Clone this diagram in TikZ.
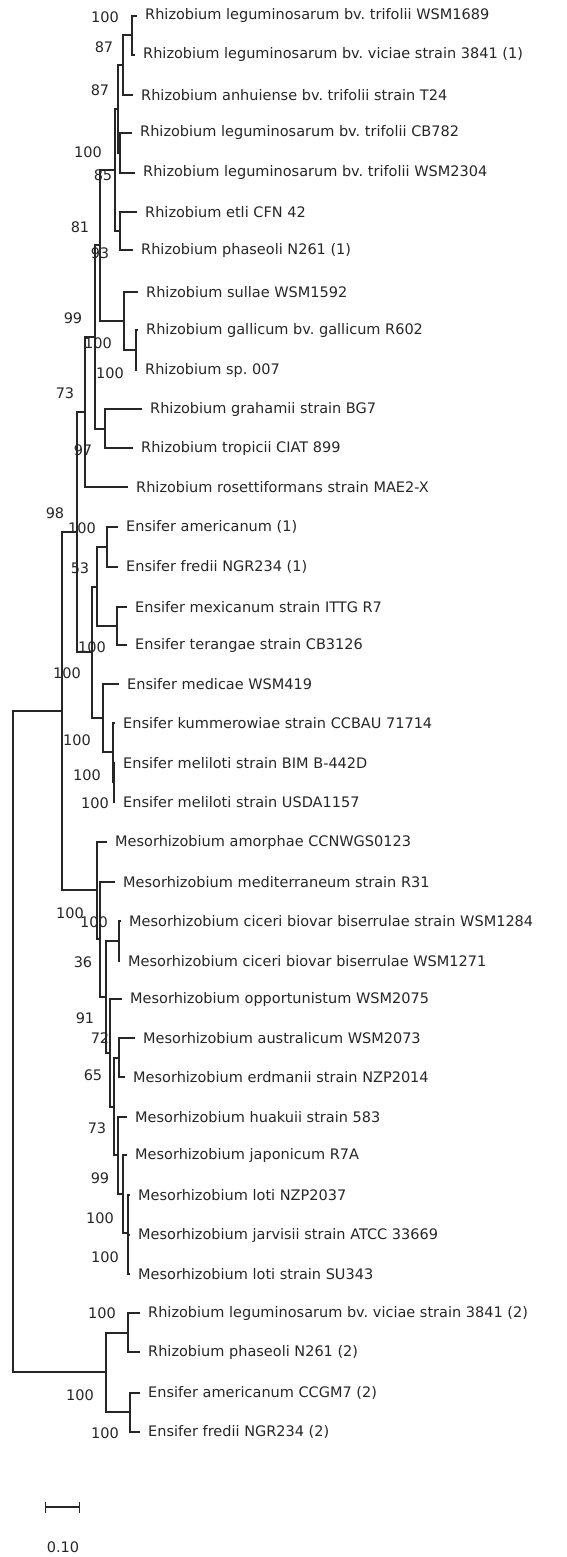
\documentclass[tikz,border=0pt]{standalone}
\usepackage{fontspec}
\setmainfont{DejaVu Sans}
\usepackage{tikz}
\usetikzlibrary{arrows.meta}
\frenchspacing
\definecolor{treeInk}{HTML}{262626}
\tikzset{
    phbranch/.style={draw=treeInk, line width=1.1pt},
    phleaf/.style={anchor=west, inner xsep=8pt, inner ysep=0pt, text=treeInk, font=\fontsize{14.5}{16}\selectfont},
    phboot/.style={inner sep=0pt, text=treeInk, font=\fontsize{14.5}{16}\selectfont},
    phscale/.style={draw=treeInk, line width=1.1pt, {Bar[width=11pt]}-{Bar[width=11pt]}}
}

\begin{document}
\begin{tikzpicture}[x=1pt, y=-1pt]
            \useasboundingbox (0,0) rectangle (567,1557);
            % leaf tips
            \coordinate (t1) at (137,16);
            \coordinate (t2) at (135,55);
            \coordinate (t3) at (133,95);
            \coordinate (t4) at (132,133);
            \coordinate (t5) at (135,173);
            \coordinate (t6) at (137,212);
            \coordinate (t7) at (133,250);
            \coordinate (t8) at (138,292);
            \coordinate (t9) at (138,330);
            \coordinate (t10) at (137,370);
            \coordinate (t11) at (142,409);
            \coordinate (t12) at (133,448);
            \coordinate (t13) at (128,487);
            \coordinate (t14) at (118,527);
            \coordinate (t15) at (118,567);
            \coordinate (t16) at (127,607);
            \coordinate (t17) at (127,645);
            \coordinate (t18) at (119,684);
            \coordinate (t19) at (115,723);
            \coordinate (t20) at (115,763);
            \coordinate (t21) at (115,802);
            \coordinate (t22) at (107,842);
            \coordinate (t23) at (115,882);
            \coordinate (t24) at (121,921);
            \coordinate (t25) at (120,961);
            \coordinate (t26) at (122,999);
            \coordinate (t27) at (135,1038);
            \coordinate (t28) at (125,1077);
            \coordinate (t29) at (127,1117);
            \coordinate (t30) at (127,1155);
            \coordinate (t31) at (130,1195);
            \coordinate (t32) at (130,1235);
            \coordinate (t33) at (130,1274);
            \coordinate (t34) at (140,1313);
            \coordinate (t35) at (140,1352);
            \coordinate (t36) at (140,1393);
            \coordinate (t37) at (140,1432);
            % taxa
            \node[phleaf] (n1) at (t1) {Rhizobium leguminosarum bv. trifolii WSM1689};
            \node[phleaf] (n2) at (t2) {Rhizobium leguminosarum bv. viciae strain 3841 (1)};
            \node[phleaf] (n3) at (t3) {Rhizobium anhuiense bv. trifolii strain T24};
            \node[phleaf] (n4) at (t4) {Rhizobium leguminosarum bv. trifolii CB782};
            \node[phleaf] (n5) at (t5) {Rhizobium leguminosarum bv. trifolii WSM2304};
            \node[phleaf] (n6) at (t6) {Rhizobium etli CFN 42};
            \node[phleaf] (n7) at (t7) {Rhizobium phaseoli N261 (1)};
            \node[phleaf] (n8) at (t8) {Rhizobium sullae WSM1592};
            \node[phleaf] (n9) at (t9) {Rhizobium gallicum bv. gallicum R602};
            \node[phleaf] (n10) at (t10) {Rhizobium sp. 007};
            \node[phleaf] (n11) at (t11) {Rhizobium grahamii strain BG7};
            \node[phleaf] (n12) at (t12) {Rhizobium tropicii CIAT 899};
            \node[phleaf] (n13) at (t13) {Rhizobium rosettiformans strain MAE2-X};
            \node[phleaf] (n14) at (t14) {Ensifer americanum (1)};
            \node[phleaf] (n15) at (t15) {Ensifer fredii NGR234 (1)};
            \node[phleaf] (n16) at (t16) {Ensifer mexicanum strain ITTG R7};
            \node[phleaf] (n17) at (t17) {Ensifer terangae strain CB3126};
            \node[phleaf] (n18) at (t18) {Ensifer medicae WSM419};
            \node[phleaf] (n19) at (t19) {Ensifer kummerowiae strain CCBAU 71714};
            \node[phleaf] (n20) at (t20) {Ensifer meliloti strain BIM B-442D};
            \node[phleaf] (n21) at (t21) {Ensifer meliloti strain USDA1157};
            \node[phleaf] (n22) at (t22) {Mesorhizobium amorphae CCNWGS0123};
            \node[phleaf] (n23) at (t23) {Mesorhizobium mediterraneum strain R31};
            \node[phleaf] (n24) at (t24) {Mesorhizobium ciceri biovar biserrulae strain WSM1284};
            \node[phleaf] (n25) at (t25) {Mesorhizobium ciceri biovar biserrulae WSM1271};
            \node[phleaf] (n26) at (t26) {Mesorhizobium opportunistum WSM2075};
            \node[phleaf] (n27) at (t27) {Mesorhizobium australicum WSM2073};
            \node[phleaf] (n28) at (t28) {Mesorhizobium erdmanii strain NZP2014};
            \node[phleaf] (n29) at (t29) {Mesorhizobium huakuii strain 583};
            \node[phleaf] (n30) at (t30) {Mesorhizobium japonicum R7A};
            \node[phleaf] (n31) at (t31) {Mesorhizobium loti NZP2037};
            \node[phleaf] (n32) at (t32) {Mesorhizobium jarvisii strain ATCC 33669};
            \node[phleaf] (n33) at (t33) {Mesorhizobium loti strain SU343};
            \node[phleaf] (n34) at (t34) {Rhizobium leguminosarum bv. viciae strain 3841 (2)};
            \node[phleaf] (n35) at (t35) {Rhizobium phaseoli N261 (2)};
            \node[phleaf] (n36) at (t36) {Ensifer americanum CCGM7 (2)};
            \node[phleaf] (n37) at (t37) {Ensifer fredii NGR234 (2)};
            % inner nodes
            \coordinate (rA) at (132,35);
            \coordinate (rB) at (123,65);
            \coordinate (rC) at (120,153);
            \coordinate (rD) at (118,109);
            \coordinate (rE) at (120,231);
            \coordinate (rF) at (115,170);
            \coordinate (rI) at (136,350);
            \coordinate (rH) at (124,321);
            \coordinate (rG) at (100,245);
            \coordinate (rJ) at (105,429);
            \coordinate (rK) at (95,337);
            \coordinate (rL) at (85,412);
            \coordinate (eM) at (107,547);
            \coordinate (eN) at (117,626);
            \coordinate (eO) at (97,587);
            \coordinate (eQ) at (114,782);
            \coordinate (eR) at (113,752);
            \coordinate (eS) at (103,718);
            \coordinate (eT) at (92,652);
            \coordinate (cU) at (77,532);
            \coordinate (mX) at (119,941);
            \coordinate (mZ) at (119,1058);
            \coordinate (m8) at (128,1233);
            \coordinate (m7) at (123,1194);
            \coordinate (m6) at (118,1155);
            \coordinate (m5) at (114,1107);
            \coordinate (m4) at (110,1053);
            \coordinate (m3) at (106,997);
            \coordinate (m2) at (100,939);
            \coordinate (m1) at (97,890);
            \coordinate (cV) at (62,711);
            \coordinate (oA) at (128,1333);
            \coordinate (oB) at (130,1412);
            \coordinate (oC) at (106,1372);
            \coordinate (root) at (13,1041);
            % branches
            \foreach \p/\c in {rA/t1, rA/t2, rB/rA, rB/t3, rC/t4, rC/t5, rD/rB, rD/rC,
                rE/t6, rE/t7, rF/rD, rF/rE, rI/t9, rI/t10, rH/t8, rH/rI, rG/rF, rG/rH,
                rJ/t11, rJ/t12, rK/rG, rK/rJ, rL/rK, rL/t13,
                eM/t14, eM/t15, eN/t16, eN/t17, eO/eM, eO/eN, eQ/t20, eQ/t21,
                eR/t19, eR/eQ, eS/t18, eS/eR, eT/eO, eT/eS, cU/rL, cU/eT,
                mX/t24, mX/t25, mZ/t27, mZ/t28, m8/t31, m8/t32, m8/t33, m7/t30, m7/m8,
                m6/t29, m6/m7, m5/mZ, m5/m6, m4/t26, m4/m5, m3/mX, m3/m4,
                m2/t23, m2/m3, m1/t22, m1/m2, cV/cU, cV/m1,
                oA/t34, oA/t35, oB/t36, oB/t37, oC/oA, oC/oB, root/cV, root/oC}
                \draw[phbranch] (\p) |- (\c);
            % bootstrap values
            \node[phboot] (b1) at (105,17) {100};
            \node[phboot] (b2) at (104,47) {87};
            \node[phboot] (b3) at (100,90) {87};
            \node[phboot] (b4) at (88,152) {100};
            \node[phboot] (b5) at (103,175) {85};
            \node[phboot] (b6) at (80,227) {81};
            \node[phboot] (b7) at (100,253) {93};
            \node[phboot] (b8) at (73,318) {99};
            \node[phboot] (b9) at (98,343) {100};
            \node[phboot] (b10) at (110,373) {100};
            \node[phboot] (b11) at (65,393) {73};
            \node[phboot] (b12) at (83,450) {97};
            \node[phboot] (b13) at (55,513) {98};
            \node[phboot] (b14) at (82,528) {100};
            \node[phboot] (b15) at (80,568) {53};
            \node[phboot] (b16) at (92,647) {100};
            \node[phboot] (b17) at (67,673) {100};
            \node[phboot] (b18) at (77,740) {100};
            \node[phboot] (b19) at (87,775) {100};
            \node[phboot] (b20) at (95,803) {100};
            \node[phboot] (b21) at (70,913) {100};
            \node[phboot] (b22) at (94,922) {100};
            \node[phboot] (b23) at (83,962) {36};
            \node[phboot] (b24) at (85,1018) {91};
            \node[phboot] (b25) at (100,1038) {72};
            \node[phboot] (b26) at (93,1075) {65};
            \node[phboot] (b27) at (97,1128) {73};
            \node[phboot] (b28) at (100,1178) {99};
            \node[phboot] (b29) at (100,1218) {100};
            \node[phboot] (b30) at (105,1257) {100};
            \node[phboot] (b31) at (102,1313) {100};
            \node[phboot] (b32) at (80,1395) {100};
            \node[phboot] (b33) at (105,1433) {100};
            % scale bar
            \coordinate (s1) at (45,1507);
            \coordinate (s2) at (80,1507);
            \draw[phscale] (s1) -- (s2);
            \node[phboot] (slabel) at (63,1547) {0.10};
        \end{tikzpicture}
\end{document}
